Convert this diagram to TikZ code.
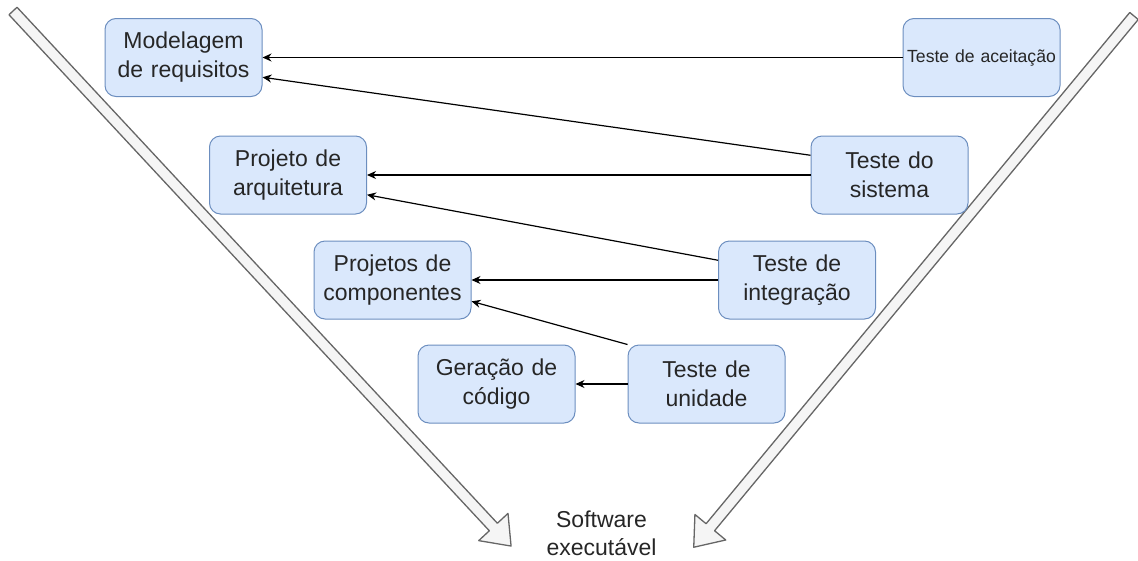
\documentclass[tikz,border=0pt]{standalone}
\usepackage{fontspec}
\setmainfont{Liberation Sans}
\usepackage{tikz}
\usetikzlibrary{arrows.meta,calc,positioning}

\definecolor{boxfill}{HTML}{DAE8FC}
\definecolor{boxline}{HTML}{6C8EBF}
\definecolor{vfill}{HTML}{F5F5F5}
\definecolor{vline}{HTML}{666666}

\begin{document}
\begin{tikzpicture}[x=1pt, y=-1pt,
    phase/.style={draw=boxline, fill=boxfill, line width=1pt, rounded corners=11pt,
        minimum width=157pt, minimum height=78pt, text width=150pt, align=center,
        text=black!85, font=\fontsize{23}{29}\selectfont},
    link/.style={-{Stealth[length=9pt,width=8pt]}, line width=1.2pt},
    bigarrow/.style={draw=vline, fill=vfill, line width=1.3pt, line join=round}]
    \useasboundingbox (0,0) rectangle (1138,560);

    % the two sides of the V
    \begin{scope}[shift={(13,11)}, rotate=-47.05]
        \draw[bigarrow] (0,5.5) -- (705,5.5) -- (705,20) -- (731,0) -- (705,-20) -- (705,-5.5) -- (0,-5.5) -- cycle;
    \end{scope}
    \begin{scope}[shift={(1134,16)}, rotate=-129.65]
        \draw[bigarrow] (0,5.5) -- (664,5.5) -- (664,20) -- (690,0) -- (664,-20) -- (664,-5.5) -- (0,-5.5) -- cycle;
    \end{scope}

    % development (left)
    \node[phase] (modelagem) at (183.5,57.5) {Modelagem\\de requisitos};
    \node[phase] (arquitetura) at (288,175) {Projeto de\\arquitetura};
    \node[phase] (componentes) at (392.5,280) {Projetos de\\componentes};
    \node[phase] (geracao) at (496.5,384) {Geração de\\código};

    % tests (right)
    \node[phase, font=\fontsize{17.6}{21}\selectfont] (aceitacao) at (981.5,57.5) {Teste de aceitação};
    \node[phase] (sistema) at (889.5,175) {Teste do\\sistema};
    \node[phase] (integracao) at (797,280) {Teste de\\integração};
    \node[phase] (unidade) at (706.5,384) {Teste de\\unidade};

    \node[text=black!85, font=\fontsize{23}{28}\selectfont, align=center] (software) at (601.5,533) {Software\\executável};

    \draw[link] (aceitacao) -- (modelagem);
    \draw[link] ($(sistema.north west)!0.25!(sistema.south west)$) -- ($(modelagem.north east)!0.75!(modelagem.south east)$);
    \draw[link] (sistema) -- (arquitetura);
    \draw[link] ($(integracao.north west)!0.25!(integracao.south west)$) -- ($(arquitetura.north east)!0.75!(arquitetura.south east)$);
    \draw[link] (integracao) -- (componentes);
    \draw[link] (unidade.north west) -- ($(componentes.north east)!0.77!(componentes.south east)$);
    \draw[link] (unidade) -- (geracao);
\end{tikzpicture}
\end{document}
